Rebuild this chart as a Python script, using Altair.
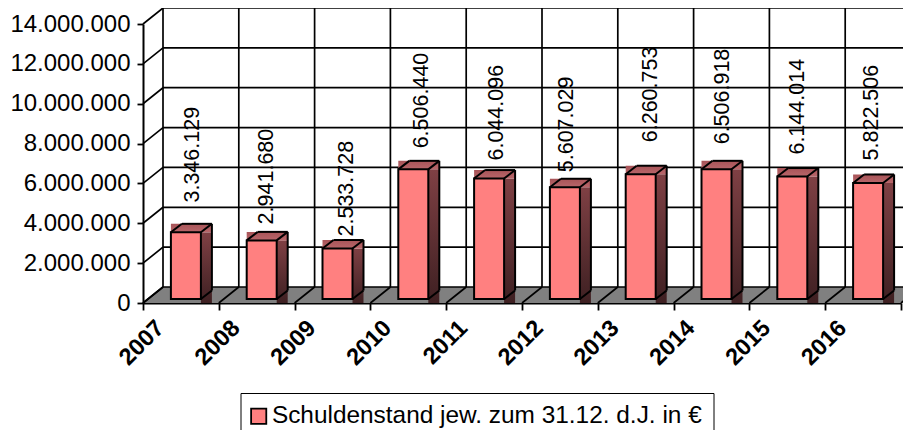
import altair as alt
import pandas as pd

YEARS = ["2007", "2008", "2009", "2010", "2011", "2012", "2013", "2014", "2015", "2016"]
VALUES = [3346129, 2941680, 2533728, 6506440, 6044096, 5607029, 6260753, 6506918, 6144014, 5822506]
VALUE_LABELS = ["3.346.129", "2.941.680", "2.533.728", "6.506.440", "6.044.096",
                "5.607.029", "6.260.753", "6.506.918", "6.144.014", "5.822.506"]
SERIES = "Schuldenstand jew. zum 31.12. d.J. in €"
Y_MAX = 14000000
Y_STEP = 2000000

PLOT_W, PLOT_H = 758, 279
PX = len(YEARS) / PLOT_W          # category units per pixel
PY = Y_MAX / PLOT_H               # value units per pixel
DX, DY = 20 * PX, 16 * PY         # depth of the chart box
BAR_W = 30 * PX
BAR_CX = 0.5 + 5 * PX             # front face centre inside a band
BAR_FY = 4 * PY                   # front face lift above the front floor edge
BAR_DX, BAR_DY = 11 * PX, 8.5 * PY
# Excel's own placement of each value label relative to its bar (pixels)
LABEL_SHIFT = [12, 10, 14.5, 13.7, 13, 7, 15, 11.5, 10.7, 9]
LABEL_LIFT = [29.8, 16, 12, 21, 18, 15, 32, 25, 22, 22.5]

FONT = "Liberation Sans"
n = len(YEARS)
levels = list(range(0, Y_MAX + 1, Y_STEP))
scale_x = alt.Scale(domain=[0, n], nice=False, zero=False)
scale_y = alt.Scale(domain=[0, Y_MAX], nice=False)
year_expr = "[" + ",".join(f"'{y}'" for y in YEARS) + ",''][datum.value]"
axis_x = alt.Axis(
    values=list(range(n + 1)), labelExpr=year_expr, labelAngle=-45, labelAlign="right",
    labelBaseline="middle", labelFont=FONT, labelFontSize=23.5, labelFontWeight="bold",
    labelColor="#000000", labelOffset=17, labelPadding=14, labelOverlap=False, labelFlush=False,
    domainColor="#000000", domainWidth=2, tickColor="#000000", tickWidth=1.8, tickSize=7,
    grid=False, title=None)
axis_y = alt.Axis(
    values=levels,
    labelExpr="replace(format(datum.value, ',d'), /,/g, '.')",
    labelFont=FONT, labelFontSize=24, labelColor="#000000", labelPadding=7,
    domainColor="#000000", domainWidth=2, tickColor="#000000", tickWidth=1.8, tickSize=6,
    grid=False, title=None)
X = alt.X("x:Q", scale=scale_x, axis=axis_x)
Y = alt.Y("y:Q", scale=scale_y, axis=axis_y)


def seg(rows):
    return pd.DataFrame(rows, columns=["x", "y", "x2", "y2"])


def rules(rows, width=1.7, color="#000000"):
    return alt.Chart(seg(rows)).mark_rule(color=color, strokeWidth=width, clip=False).encode(
        x=X, y=Y, x2="x2:Q", y2="y2:Q")


def rects(rows, **kw):
    return alt.Chart(seg(rows)).mark_rect(clip=False, **kw).encode(
        x=X, y=Y, x2="x2:Q", y2="y2:Q")


def vgrad(a, b):
    return alt.Gradient(gradient="linear", x1=0, y1=0, x2=0, y2=1,
                        stops=[alt.GradientStop(color=a, offset=0),
                               alt.GradientStop(color=b, offset=1)])


floor = alt.Chart(pd.DataFrame({
    "x": [0, DX, n, n + DX], "y": [0, DY, DY, DY], "y2": [0, 0, 0, DY]
})).mark_area(color="#808080", clip=False).encode(x=X, y=Y, y2="y2:Q")

wall_h = rules([(DX, v + DY, n + DX, v + DY) for v in levels])
wall_v = rules([(i + DX, DY, i + DX, Y_MAX + DY) for i in range(n + 1)])
side_wall = rules([(0, v, DX, v + DY) for v in levels])
floor_lines = rules([(i, 0, i + DX, DY) for i in range(n + 1)])

fronts, tops, sides, outline = [], [], [], []
for i, v in enumerate(VALUES):
    l = i + BAR_CX - BAR_W / 2
    r = i + BAR_CX + BAR_W / 2
    b = BAR_FY
    t = BAR_FY + v
    fronts.append({"x": l, "y": b, "x2": r, "y2": t, "series": SERIES})
    tops.append((l, t, r + BAR_DX, t + BAR_DY))
    sides.append((r, 0, r + BAR_DX, t))
    outline += [
        (l, t, l + BAR_DX, t + BAR_DY),
        (l + BAR_DX, t + BAR_DY, r + BAR_DX, t + BAR_DY),
        (r, t, r + BAR_DX, t + BAR_DY),
        (r + BAR_DX, t + BAR_DY, r + BAR_DX, b + BAR_DY),
        (r, b, r + BAR_DX, b + BAR_DY),
    ]

side_faces = rects(sides, color=vgrad("#7f4044", "#3e2022"))
top_faces = rects(tops, color=vgrad("#a85458", "#b8666a"))
front_faces = alt.Chart(pd.DataFrame(fronts)).mark_rect(
    stroke="#000000", strokeWidth=2, clip=False
).encode(
    x=X, y=Y, x2="x2:Q", y2="y2:Q",
    fill=alt.Fill("series:N", scale=alt.Scale(domain=[SERIES], range=["#ff8080"]),
                  legend=alt.Legend(
                      orient="none", legendX=97.5, legendY=369, title=None,
                      strokeColor="#000000", fillColor="#ffffff", padding=11,
                      symbolType="square", symbolSize=230, symbolStrokeColor="#000000",
                      symbolStrokeWidth=1.8, symbolOffset=-5, labelFont=FONT, labelFontSize=24.4,
                      labelColor="#000000", labelLimit=500, labelOffset=1)),
)
bar_lines = rules(outline, width=2)

labels = alt.Chart(pd.DataFrame({
    "x": [i + 0.5 + s * PX for i, s in enumerate(LABEL_SHIFT)],
    "y": [v + (4 + h) * PY for v, h in zip(VALUES, LABEL_LIFT)],
    "t": VALUE_LABELS,
})).mark_text(angle=270, align="left", baseline="middle", font=FONT, fontSize=21.5,
              color="#000000", clip=False).encode(x=X, y=Y, text="t:N")

chart = alt.layer(
    floor, wall_h, wall_v, side_wall, floor_lines,
    side_faces, top_faces, front_faces, bar_lines, labels,
).properties(
    width=PLOT_W, height=PLOT_H,
    autosize=alt.AutoSizeParams(type="none"),
    padding={"left": 135, "top": 16, "right": 2, "bottom": 127},
    background="#ffffff",
).configure_view(stroke=None)

chart.save("out.html", embed_options={"renderer": "svg", "actions": False})
